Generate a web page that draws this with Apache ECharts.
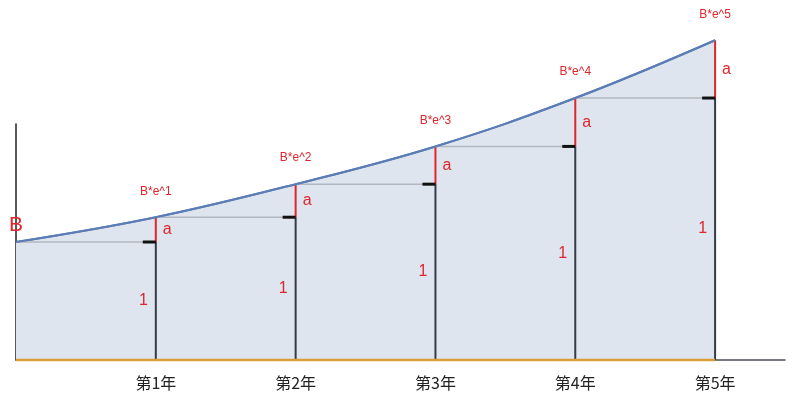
<!DOCTYPE html>
<html>
<head>
<meta charset="utf-8">
<script src="https://cdn.jsdelivr.net/npm/echarts@6/dist/echarts.min.js"></script>
<style>
  html, body { margin: 0; padding: 0; background: #fff; }
  #chart { width: 800px; height: 400px; }
</style>
</head>
<body>
<div id="chart"></div>
<script>
// 数据
const years = [0, 1, 2, 3, 4, 5];
const values = [100, 121, 149, 181, 222, 271];
const xLabels = ['', '第1年', '第2年', '第3年', '第4年', '第5年'];
const pointLabels = ['B', 'B*e^1', 'B*e^2', 'B*e^3', 'B*e^4', 'B*e^5'];
const stepLabelUp = 'a';
const stepLabelBase = '1';

const RED = '#e0262d';
const FONT = 'Liberation Sans, Arial, sans-serif';

const curveData = years.map((x, i) => [x, values[i]]);
// 每年一段：[年份, 上年值, 本年值]
const stepData = years.slice(1).map((x, i) => [x, values[i], values[i + 1]]);
const labelData = years.map((x, i) => [x, values[i], i]);

const chart = echarts.init(document.getElementById('chart'));

const option = {
  backgroundColor: '#fff',
  animation: false,
  grid: { left: 16, right: 15, top: 124, bottom: 40, containLabel: false, outerBoundsMode: 'none' },
  xAxis: {
    type: 'value',
    min: 0,
    max: 5.5,
    interval: 1,
    axisLine: { show: true, onZero: false, lineStyle: { color: '#4a4f57', width: 1.5 } },
    axisTick: { show: false },
    splitLine: { show: false },
    axisLabel: {
      margin: 15,
      fontSize: 16,
      color: '#222',
      fontFamily: 'Noto Sans CJK SC, sans-serif',
      formatter: v => (Number.isInteger(v) && xLabels[v]) ? xLabels[v] : ''
    }
  },
  yAxis: {
    type: 'value',
    min: 0,
    max: 200,
    axisLine: { show: true, lineStyle: { color: '#222', width: 1.5 } },
    axisTick: { show: false },
    axisLabel: { show: false },
    splitLine: { show: false }
  },
  series: [
    {
      type: 'line',
      data: curveData,
      smooth: 0.4,
      symbol: 'none',
      clip: false,
      z: 1,
      lineStyle: { color: '#5b7db6', width: 2 },
      areaStyle: { color: '#dfe5ee', opacity: 1 }
    },
    {
      type: 'custom',
      data: stepData,
      clip: false,
      z: 2,
      renderItem(params, api) {
        const n = api.value(0), prev = api.value(1), cur = api.value(2);
        const base = api.coord([n, 0]);
        const p = api.coord([n, prev]);
        const c = api.coord([n, cur]);
        const left = api.coord([n - 1, prev]);
        return {
          type: 'group',
          children: [
            { type: 'line', shape: { x1: left[0], y1: p[1], x2: p[0], y2: p[1] },
              style: { stroke: '#b2b7bf', lineWidth: 1.5 } },
            { type: 'line', shape: { x1: base[0], y1: base[1], x2: p[0], y2: p[1] },
              style: { stroke: '#343b47', lineWidth: 2 } },
            { type: 'line', shape: { x1: p[0], y1: p[1], x2: c[0], y2: c[1] },
              style: { stroke: RED, lineWidth: 2 } },
            { type: 'line', shape: { x1: p[0] - 13, y1: p[1], x2: p[0], y2: p[1] },
              style: { stroke: '#111', lineWidth: 3 } },
            { type: 'text', x: p[0] + 7, y: (p[1] + c[1]) / 2,
              style: { text: stepLabelUp, fill: RED, fontSize: 16, fontFamily: FONT,
                       align: 'left', verticalAlign: 'middle' } },
            { type: 'text', x: p[0] - 8, y: (p[1] + base[1]) / 2,
              style: { text: stepLabelBase, fill: RED, fontSize: 16, fontFamily: FONT,
                       align: 'right', verticalAlign: 'middle' } }
          ]
        };
      }
    },
    {
      type: 'line',
      data: [[0, 0], [5, 0]],
      symbol: 'none',
      clip: false,
      z: 3,
      lineStyle: { color: '#d99e38', width: 2.5 }
    },
    {
      type: 'line',
      data: curveData,
      smooth: 0.4,
      symbol: 'none',
      clip: false,
      z: 4,
      lineStyle: { color: '#5b7db6', width: 2 }
    },
    {
      type: 'custom',
      data: labelData,
      clip: false,
      z: 5,
      renderItem(params, api) {
        const i = api.value(2);
        const pt = api.coord([api.value(0), api.value(1)]);
        const big = i === 0;
        return {
          type: 'text',
          x: pt[0],
          y: pt[1] - (big ? 17 : 26),
          style: {
            text: pointLabels[i],
            fill: RED,
            fontSize: big ? 21 : 12,
            fontFamily: FONT,
            align: 'center',
            verticalAlign: 'middle'
          }
        };
      }
    }
  ]
};

chart.setOption(option);
</script>
</body>
</html>
